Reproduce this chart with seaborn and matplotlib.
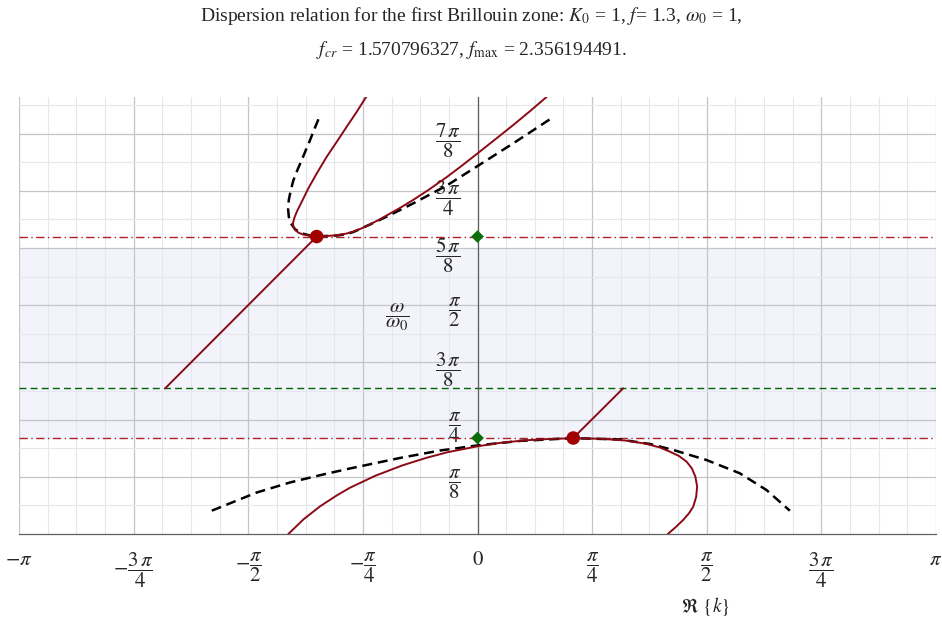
"""
Dispersion relation chart (first Brillouin zone), redrawn with seaborn.
"""
import numpy as np
import matplotlib
matplotlib.use("Agg")
import matplotlib.pyplot as plt
import seaborn as sns

sns.set_style("white")
plt.rcParams.update({
    'font.family': ['Liberation Serif', 'DejaVu Serif'],
    'mathtext.fontset': 'stix',
    'axes.unicode_minus': False,
})

PI = np.pi

# ---- values (k, omega/omega0) ----
# lower branch, solid
low_k = [-1.296, -1.193, -1.079, -0.964, -0.873, -0.700, -0.512, -0.350, -0.207,
         0.000, 0.150, 0.325, 0.500, 0.647, 0.839, 1.010, 1.147, 1.250, 1.318,
         1.380, 1.433, 1.469, 1.493, 1.505, 1.498, 1.478, 1.448, 1.409, 1.359, 1.304]
low_w = [0.000, 0.100, 0.190, 0.265, 0.318, 0.400, 0.472, 0.523, 0.561,
         0.602, 0.625, 0.643, 0.653, 0.657, 0.654, 0.642, 0.621, 0.594, 0.565,
         0.536, 0.496, 0.450, 0.393, 0.325, 0.254, 0.187, 0.141, 0.096, 0.048, 0.000]
# lower branch, dashed approximation
low_dash_k = [-1.821, -1.512, -1.284, -1.056, -0.873, -0.531, -0.257, 0.000, 0.291,
              0.654, 0.976, 1.181, 1.341, 1.569, 1.797, 1.980, 2.140]
low_dash_w = [0.160, 0.285, 0.354, 0.409, 0.450, 0.522, 0.573, 0.608, 0.639,
              0.658, 0.649, 0.618, 0.577, 0.508, 0.417, 0.302, 0.160]
# upper branch, solid
up_k = [-0.759, -0.827, -0.896, -0.964, -1.033, -1.101, -1.159, -1.204, -1.238,
        -1.255, -1.264, -1.262, -1.248, -1.225, -1.195, -1.147, -1.101, -1.030,
        -0.964, -0.900, -0.851, -0.790, -0.736, -0.670, -0.599, -0.520, -0.440,
        -0.330, -0.211, -0.100, -0.006, 0.120, 0.243, 0.360, 0.473]
up_w = [3.007, 2.899, 2.796, 2.693, 2.590, 2.476, 2.373, 2.281, 2.213,
        2.170, 2.135, 2.108, 2.085, 2.068, 2.056, 2.048, 2.045, 2.046,
        2.051, 2.062, 2.076, 2.100, 2.126, 2.160, 2.200, 2.245, 2.294,
        2.366, 2.450, 2.534, 2.608, 2.708, 2.806, 2.903, 3.000]
# upper branch, dashed approximation
up_dash_k = [-1.090, -1.120, -1.147, -1.176, -1.204, -1.234, -1.261, -1.279, -1.293,
             -1.298, -1.293, -1.279, -1.250, -1.204, -1.147, -1.101, -1.030, -0.964,
             -0.900, -0.851, -0.736, -0.599, -0.440, -0.211, -0.006, 0.245, 0.496]
up_dash_w = [2.847, 2.774, 2.705, 2.636, 2.568, 2.499, 2.430, 2.362, 2.293,
             2.236, 2.178, 2.133, 2.092, 2.064, 2.049, 2.045, 2.046, 2.049,
             2.059, 2.073, 2.125, 2.190, 2.270, 2.392, 2.522, 2.682, 2.847]
# light-line segments
line_lo_k = [0.656, 0.998]
line_lo_w = [0.659, 1.000]
line_up_k = [-2.140, -1.102]
line_up_w = [1.000, 2.042]

# special points
edge_k = [0.656, -1.102]
edge_w = [0.659, 2.042]
gap_lo, gap_hi = 0.659, 2.042
band_lo, band_hi = 0.659, 1.963
omega0 = 1.0

major_x = [-PI, -3*PI/4, -PI/2, -PI/4, 0, PI/4, PI/2, 3*PI/4, PI]
major_x_lbl = [r"$-\pi$", r"$-\dfrac{3\,\pi}{4}$", r"$-\dfrac{\pi}{2}$", r"$-\dfrac{\pi}{4}$",
               r"$0$", r"$\dfrac{\pi}{4}$", r"$\dfrac{\pi}{2}$", r"$\dfrac{3\,\pi}{4}$", r"$\pi$"]
major_y = [PI/8, PI/4, 3*PI/8, PI/2, 5*PI/8, 3*PI/4, 7*PI/8]
major_y_lbl = [r"$\dfrac{\pi}{8}$", r"$\dfrac{\pi}{4}$", r"$\dfrac{3\,\pi}{8}$", r"$\dfrac{\pi}{2}$",
               r"$\dfrac{5\,\pi}{8}$", r"$\dfrac{3\,\pi}{4}$", r"$\dfrac{7\,\pi}{8}$"]

RED = '#8b0a14'

fig = plt.figure(figsize=(9.42, 6.23), dpi=100)
ax = fig.add_axes([19/942, 89/623, 917/942, 437/623])

# band + reference lines
ax.axhspan(band_lo, band_hi, color='#f3f3fc', zorder=0, lw=0)
for yv in (gap_lo, gap_hi):
    ax.axhline(yv, color='#b01e28', lw=1.0, dashes=(6, 2.5, 1, 2.5), zorder=2)
ax.axhline(omega0, color='#006400', lw=1.0, dashes=(5, 3), zorder=2)

# curves
sns.lineplot(x=low_dash_k, y=low_dash_w, sort=False, estimator=None,
             color='black', lw=1.8, ax=ax, zorder=3)
ax.lines[-1].set_dashes([4, 2.3])
sns.lineplot(x=up_dash_k, y=up_dash_w, sort=False, estimator=None,
             color='black', lw=1.8, ax=ax, zorder=3)
ax.lines[-1].set_dashes([4, 2.3])
for kk, ww in [(low_k, low_w), (up_k, up_w), (line_lo_k, line_lo_w), (line_up_k, line_up_w)]:
    sns.lineplot(x=kk, y=ww, sort=False, estimator=None, color=RED, lw=1.4,
                 ax=ax, zorder=4)

sns.scatterplot(x=edge_k, y=edge_w, color='#a00000', s=95, edgecolor='none',
                ax=ax, zorder=5)
sns.scatterplot(x=[0, 0], y=[gap_lo, gap_hi], color='#0a6e0a', marker='D', s=42,
                edgecolor='none', ax=ax, zorder=5)

# axes
ax.set_xlim(-PI, PI)
ax.set_ylim(0, 3.0)
ax.set_xticks(major_x)
ax.set_xticklabels(major_x_lbl)
ax.set_xticks(np.arange(-16, 17) * PI/16, minor=True)
ax.set_yticks(major_y)
ax.set_yticklabels(major_y_lbl)
ax.set_yticks(np.arange(1, 16) * PI/16, minor=True)
ax.tick_params(axis='both', which='both', direction='out', length=4,
               color='#707070', width=0.8)
ax.tick_params(axis='both', which='major', pad=8, labelsize=15)

ax.grid(True, which='major', color='#c4c4cc', lw=0.9)
ax.grid(True, which='minor', color='#e6e6ee', lw=0.8)
ax.set_axisbelow(True)

ax.spines['left'].set_position(('data', 0))
ax.spines['top'].set_visible(False)
ax.spines['right'].set_visible(False)
for sp in ('left', 'bottom'):
    ax.spines[sp].set_color('#606060')
    ax.spines[sp].set_linewidth(0.9)
ax.set_xlabel("")
ax.set_ylabel("")

ax.text(-0.55, 1.49, r"$\dfrac{\omega}{\omega_{0}}$", fontsize=15,
        ha='center', va='center')
fig.text(706/942, 1 - 607/623, r"$\Re\ \{k\}$", fontsize=14,
         ha='center', va='center')

fig.text(0.5, 1 - 16/623,
         r"Dispersion relation for the first Brillouin zone: $K_{0}$ = 1, $f$= 1.3, $\omega_{0}$ = 1,",
         ha='center', va='center', fontsize=14)
fig.text(0.5, 1 - 50/623,
         r"$f_{cr}$ = 1.570796327, $f_{\max}$ = 2.356194491.",
         ha='center', va='center', fontsize=14)

plt.savefig("out.png", dpi=100)
plt.close()
